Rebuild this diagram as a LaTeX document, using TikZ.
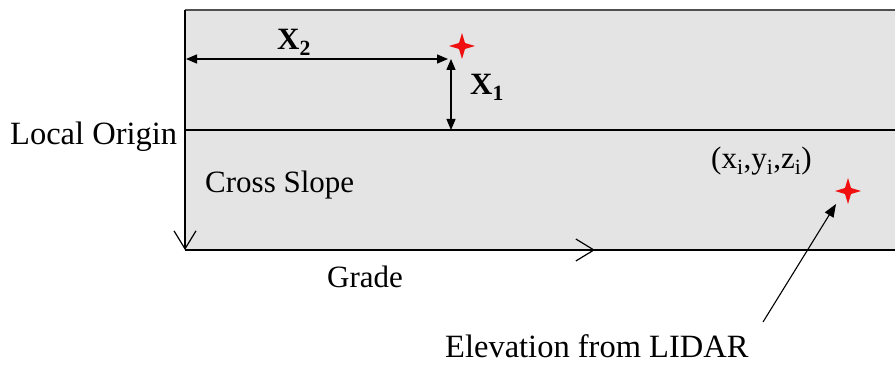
\documentclass[tikz,border=0pt]{standalone}
\usepackage{fontspec}
\setmainfont{Liberation Serif}
\usetikzlibrary{arrows.meta,calc}
\definecolor{road}{HTML}{E4E4E4}
\definecolor{edge}{HTML}{505050}
\definecolor{starred}{HTML}{F01010}
\tikzset{
  lbl/.style={anchor=base west,inner sep=0pt,font=\fontsize{31}{35}\selectfont},
  biglbl/.style={lbl,font=\fontsize{32.5}{36}\selectfont},
  dim/.style={line width=1.3pt,{Triangle[length=11pt,width=9pt]}-{Triangle[length=11pt,width=9pt]}},
  openarr/.style={line width=1.2pt,-{Straight Barb[length=18pt,width=22pt,line width=1.2pt]}},
  ptr/.style={line width=1.1pt,-{Triangle[length=13pt,width=10pt]}},
  redstar/.style={fill=starred}
}
\newcommand{\starat}[1]{%
  \fill[redstar] ($(#1)+(0,-13)$) -- ($(#1)+(3,-3)$) -- ($(#1)+(13,0)$) -- ($(#1)+(3,3)$)
   -- ($(#1)+(0,13)$) -- ($(#1)+(-3,3)$) -- ($(#1)+(-13,0)$) -- ($(#1)+(-3,-3)$) -- cycle;}
\begin{document}
\begin{tikzpicture}[x=1pt,y=-1pt]
\useasboundingbox (0,0) rectangle (895,366);
% road surface
\fill[road] (185,10) rectangle (895,250);
\draw[edge,line width=1.2pt] (185,10) -- (895,10);
\coordinate (lo) at (185,130);
\coordinate (loR) at (895,130);
\coordinate (top) at (185,10);
\coordinate (corner) at (185,250);
\coordinate (botR) at (895,250);
\coordinate (gradeTip) at (595,250);
\draw[line width=1.3pt] (lo) -- (loR);
\draw[line width=1.3pt] (corner) -- (botR);
\draw[openarr] (top) -- (corner);
\draw[openarr] (corner) -- (gradeTip);
% dimension arrows
\coordinate (x2L) at (186,59);
\coordinate (x2R) at (448,59);
\coordinate (x1T) at (451,59);
\coordinate (x1B) at (451,130);
\draw[dim] (x2L) -- (x2R);
\draw[dim] (x1T) -- (x1B);
% stars
\coordinate (s1) at (462,46);
\coordinate (s2) at (848,191);
\starat{s1}
\starat{s2}
% labels
\node[biglbl] (origin) at (10,145) {Local Origin};
\node[lbl] (x2) at (277,50) {\bfseries X\textsubscript{2}};
\node[lbl] (x1) at (470,95) {\bfseries X\textsubscript{1}};
\node[lbl] (cross) at (205,193) {Cross Slope};
\node[lbl] (grade) at (327,288) {Grade};
\node[lbl] (xyz) at (711,169) {(x\textsubscript{i},y\textsubscript{i},z\textsubscript{i})};
\node[biglbl] (elev) at (445,357) {Elevation from LIDAR};
\coordinate (tail) at (763,322);
\coordinate (head) at (836,204);
\draw[ptr] (tail) -- (head);
\end{tikzpicture}
\end{document}
